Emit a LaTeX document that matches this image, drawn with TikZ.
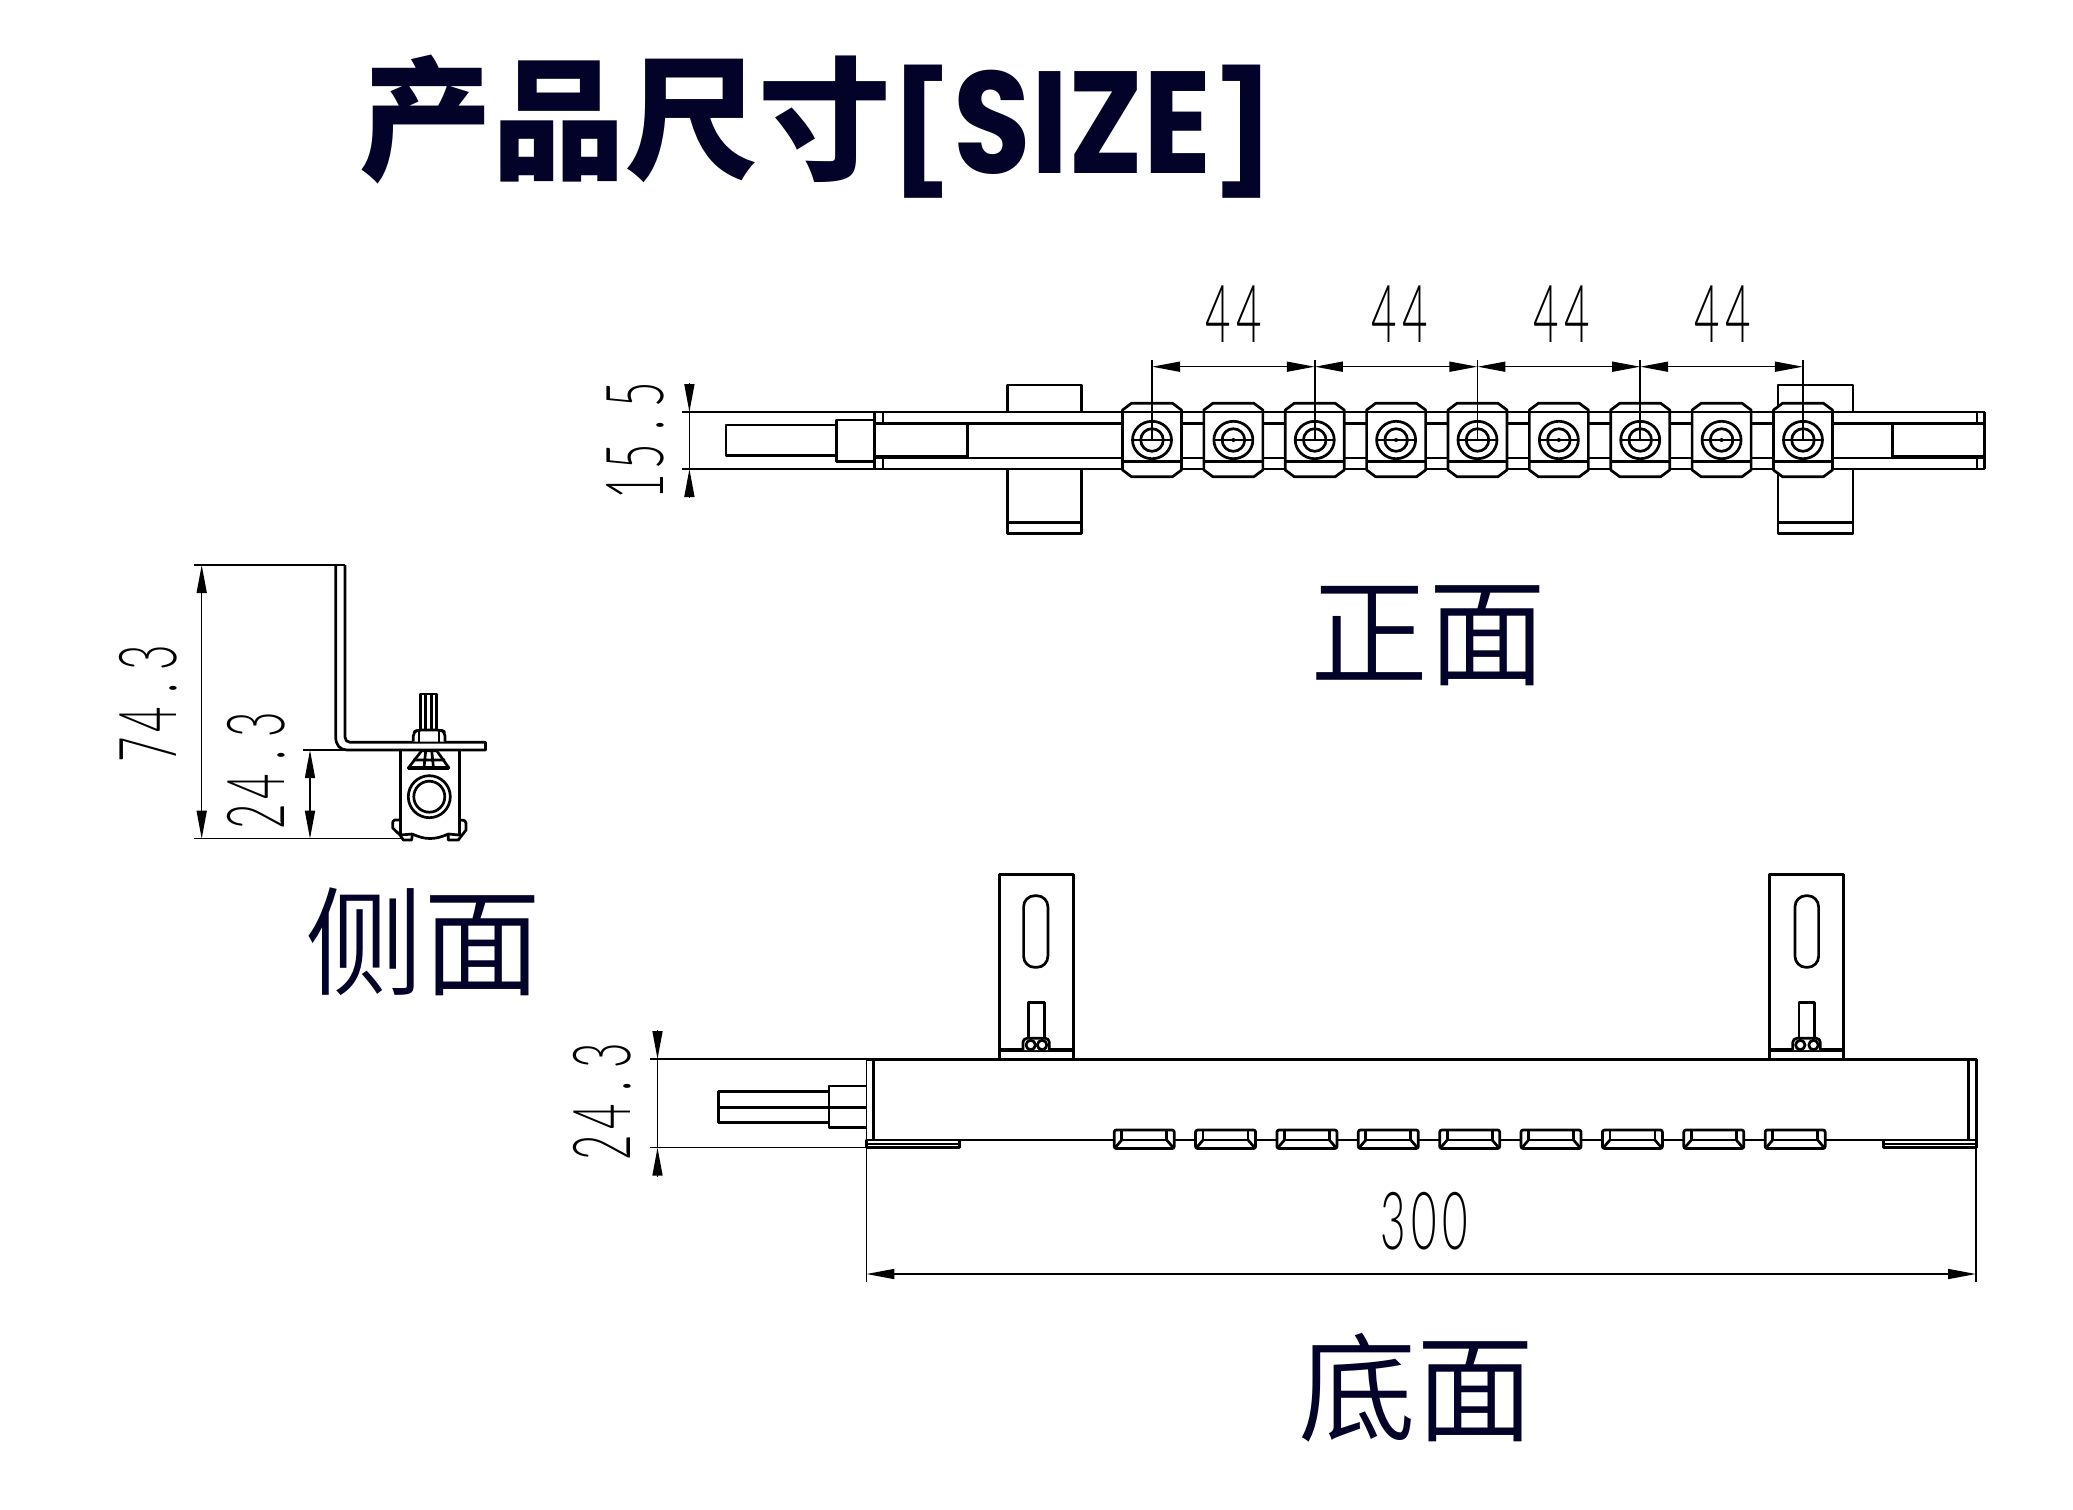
\documentclass[tikz,border=0pt]{standalone}
\usepackage{fontspec}
\usetikzlibrary{arrows.meta}
\newfontfamily\cjkreg{Noto Sans CJK SC}[UprightFont=* DemiLight]
\newfontfamily\cjkblack{Noto Sans CJK SC}[UprightFont=* Black]
\newfontfamily\latbold{Poppins}[UprightFont=* Bold]
\newfontfamily\cadfont{Lato}[UprightFont=* Light]
\definecolor{navy}{HTML}{03032A}
\newcommand{\cg}[1]{\makebox[28pt][c]{#1}}
\newcommand{\cadtext}[1]{\scalebox{0.55}[1]{\fontsize{40}{40}\cadfont #1}}
\tikzset{
  bold/.style={line width=1.35pt, line join=round, black},
  thinl/.style={line width=0.75pt, black},
  tipR/.style={-{Triangle[length=14pt,width=5pt]}},
  dimboth/.style={thinl,{Triangle[length=14pt,width=5pt]}-{Triangle[length=14pt,width=5pt]}},
  dimtext/.style={inner sep=0pt, black},
  head/.style={inner sep=0pt, navy, font=\fontsize{59}{59}\cjkreg},
}
\begin{document}
\begin{tikzpicture}[x=0.5pt,y=-0.5pt]
\useasboundingbox (0,0) rectangle (2073,1510);
\fill[white] (0,0) rectangle (2073,1510);
% title
\node[inner sep=0pt,navy,font=\fontsize{66.5}{66.5}\cjkblack] (title) at (625,120) {产品尺寸};
\node[inner sep=0pt,navy,font=\fontsize{66}{66}\latbold,anchor=base west] (titleb) at (889,173) {\scalebox{0.955}[0.9]{[}\scalebox{0.955}[1.1]{SIZE}\scalebox{0.955}[0.9]{]}};
% headings
\node[head] (front) at (1428,636) {正面};
\node[head] (side) at (423,942) {侧面};
\node[head] (bottom) at (1416,1388) {底面};

% ===== front view =====
\draw[bold] (1007.2,412) -- (1007.2,385) -- (1081.3,385) -- (1081.3,412);
\draw[bold] (1007.2,469) -- (1007.2,533.3) -- (1081.3,533.3) -- (1081.3,469) (1007.2,522.3) -- (1081.3,522.3);
\draw[bold] (1778,412) -- (1778,385) -- (1853,385) -- (1853,412);
\draw[bold] (1778,469) -- (1778,533.3) -- (1853,533.3) -- (1853,469) (1778,522.3) -- (1853,522.3);
% plate
\draw[bold] (874.6,412) -- (1984.5,412) (874.6,469) -- (1984.5,469) (874.6,423.3) -- (1984.5,423.3) (874.6,458) -- (1984.5,458);
\draw[bold] (874.6,412) -- (874.6,469) (883,412) -- (883,423.3) (883,458) -- (883,469);
\draw[bold] (1984.5,412) -- (1984.5,469) (1977,412) -- (1977,423.3) (1977,458) -- (1977,469);
\draw[bold] (967.4,423.3) -- (967.4,458) (874.6,456.8) -- (967.4,456.8);
\draw[bold] (1892.3,423.3) -- (1892.3,458) (1892.3,456.8) -- (1984.5,456.8);
% bolt
\draw[bold] (836.7,425) -- (726,425) -- (726,455.7) -- (836.7,455.7);
\draw[bold] (874.6,420) -- (836.7,420) -- (836.7,461.7) -- (874.6,461.7);
% blocks
\foreach \k in {0,...,8}{
  \pgfmathsetmacro\c{1152+81.37*\k}
  \draw[bold,fill=white] (\c-29.5,410) -- (\c-20.5,403.3) -- (\c+20.5,403.3) -- (\c+29.5,410) -- (\c+29.5,470) -- (\c+20.5,476.7) -- (\c-20.5,476.7) -- (\c-29.5,470) -- cycle;
  \draw[bold] (\c-29.5,412) -- (\c+29.5,412) (\c-29.5,461.7) -- (\c+29.5,461.7);
  \draw[bold] (\c,440) ellipse [x radius=19.5,y radius=18.7];
  \draw[bold] (\c,440) ellipse [x radius=11.3,y radius=11.3];
  \draw[bold] (\c-19.5,440) -- (\c+19.5,440);
}
\foreach \k in {1,3,5,7}{
  \pgfmathsetmacro\c{1152+81.37*\k}
  \fill (\c,440) circle (2);
}
\foreach \k in {0,2,4,6,8}{
  \pgfmathsetmacro\c{1152+81.37*\k}
  \draw[thinl] (\c,360) -- (\c,440);
}
% 44 dims
\foreach \k in {0,1,2,3}{
  \pgfmathsetmacro\a{1152+162.74*\k}
  \pgfmathsetmacro\b{1152+162.74*(\k+1)}
  \draw[dimboth] (\a,366.7) -- (\b,366.7);
}
\node[dimtext] (d44a) at (1233.6,314.5) {\cadtext{\cg{4}\cg{4}}};
\node[dimtext] (d44b) at (1400,314.5) {\cadtext{\cg{4}\cg{4}}};
\node[dimtext] (d44c) at (1562,314.5) {\cadtext{\cg{4}\cg{4}}};
\node[dimtext] (d44d) at (1723,314.5) {\cadtext{\cg{4}\cg{4}}};
% 15.5 dim
\draw[thinl] (681.8,412) -- (874.6,412) (681.8,469) -- (874.6,469) (689.4,412) -- (689.4,469);
\draw[thinl,tipR] (689.4,383.3) -- (689.4,412);
\draw[thinl,tipR] (689.4,497.7) -- (689.4,469);
\node[dimtext,rotate=90] (d155) at (634.9,441) {\cadtext{\cg{1}\cg{5}\cg{.}\cg{5}}};

% ===== side view =====
\draw[thinl] (194.3,565) -- (345,565) (194.3,838.7) -- (401.7,838.7) (303.3,750) -- (345,750);
\draw[bold] (335.7,565) -- (345,565);
\draw[bold] (335.7,565) -- (335.7,737) .. controls (335.7,745) and (340,750) .. (347,750) -- (485.5,750) -- (485.5,742.3) -- (350,742.3) .. controls (347,742.3) and (345,740) .. (345,737) -- (345,565);
\draw[dimboth] (201.7,565) -- (201.7,838.7);
\draw[dimboth] (310,750) -- (310,838.7);
\node[dimtext,rotate=90] (d743) at (148,704) {\cadtext{\cg{7}\cg{4}\cg{.}\cg{3}}};
\node[dimtext,rotate=90] (d243a) at (256,771) {\cadtext{\cg{2}\cg{4}\cg{.}\cg{3}}};
% bolt and block in side view
\draw[bold] (420.7,730) -- (420.7,694) -- (436.7,694) -- (436.7,730) (425.7,694) -- (425.7,730) (431.7,694) -- (431.7,730);
\draw[bold,rounded corners=2pt,fill=white] (413.3,741.7) -- (413.3,732) -- (418,730) -- (441,730) -- (445,732) -- (445,741.7);
\draw[bold] (419,730) -- (419,741.7) (439,730) -- (439,741.7);
\draw[bold] (400.7,750) -- (400.7,836) (459.3,750) -- (459.3,836);
\draw[bold,fill=white] (408.3,768) -- (421.7,750.7) -- (436.7,750.7) -- (449,768) -- cycle;
\draw[bold] (413,760) -- (445,760) (425.7,750.7) -- (424,768) (431.7,750.7) -- (433.5,768);
\draw[line width=2.2pt] (408.3,768) -- (449,768);
\draw[bold] (429.3,796.7) circle (21);
\draw[bold] (429.3,796.7) circle (15.5);
\draw[bold,line join=round] (400.7,820) -- (394.5,820) .. controls (392.5,820) and (392.7,822) .. (392.7,828) -- (400,835) -- (403.3,840) -- (411.7,840) -- (412.3,834) .. controls (425,840) and (435,840) .. (448.3,834) -- (448.3,840) -- (458.3,840) -- (466,830) -- (466,823) .. controls (466,821) and (465,820) .. (459.3,820);
\draw[bold] (400,835) -- (412.3,834) (448.3,834) -- (459,835);

% ===== bottom view =====
\foreach \xa/\xb/\sa/\sb/\ba/\bb/\na/\nb/\ca/\cb in {999.3/1073.6/1023.6/1047.9/1028.2/1044.3/1022.9/1049.3/1030.7/1042.1,1769.8/1843.3/1795/1818.6/1799/1814.6/1792.8/1820.3/1800.3/1813.5}{
  \draw[bold] (\xa,1059) -- (\xa,874.3) -- (\xb,874.3) -- (\xb,1059);
  \draw[bold,rounded corners=5.5pt] (\sa,895.7) rectangle (\sb,967.3);
  \draw[bold] (\ba,1038.3) -- (\ba,1002.7) -- (\bb,1002.7) -- (\bb,1038.3);
  \draw[line width=2pt] (\xa,1050) -- (\xb,1050);
  \draw[bold,rounded corners=2pt,fill=white] (\na,1050) -- (\na,1038.3) -- (\nb,1038.3) -- (\nb,1050);
  \draw[bold] (\ca,1045) circle (4.7) (\cb,1045) circle (4.7);
}
\draw[line width=1.5pt] (866.4,1059) -- (1976.5,1059);
\draw[bold] (873.6,1059) -- (873.6,1140) (1976.5,1059) -- (1976.5,1147.7) (1968.5,1059) -- (1968.5,1140);
\draw[bold] (866.4,1140) -- (1976.5,1140);
\draw[bold,fill=white] (866.4,1140) rectangle (959.3,1147.7) (1883.5,1140) rectangle (1976.5,1147.7);
\draw[bold] (866.4,1144) -- (959.3,1144) (1883.5,1144) -- (1976.5,1144);
% slots
\foreach \k in {0,...,8}{
  \pgfmathsetmacro\l{1114.2+81.37*\k}
  \draw[bold,fill=white,rounded corners=1pt] (\l,1130) rectangle (\l+60,1148.5);
  \draw[bold] (\l+7.5,1130) -- (\l+7.5,1140) -- (\l+52.5,1140) -- (\l+52.5,1130);
  \draw[bold] (\l+7.5,1140) -- (\l+1.5,1147) (\l+52.5,1140) -- (\l+58.5,1147);
}
% side bolt
\draw[bold] (829,1091.7) -- (718.2,1091.7) -- (718.2,1122.7) -- (829,1122.7);
\draw[bold] (866.4,1086) -- (829,1086) -- (829,1127.7) -- (866.4,1127.7);
\draw[bold] (718.2,1107.3) -- (866.4,1107.3);
% dims
\draw[thinl] (650.4,1059) -- (866.4,1059) (650.4,1147.7) -- (866.4,1147.7) (657.5,1059) -- (657.5,1147.7);
\draw[thinl,tipR] (657.5,1030) -- (657.5,1059);
\draw[thinl,tipR] (657.5,1176.7) -- (657.5,1147.7);
\node[dimtext,rotate=90] (d243b) at (602.5,1101.7) {\cadtext{\cg{2}\cg{4}\cg{.}\cg{3}}};
\draw[thinl] (866.4,1059) -- (866.4,1282) (1976,1147) -- (1976,1282);
\draw[dimboth] (866.4,1274) -- (1976,1274);
\node[dimtext] (d300) at (1424,1221) {\cadtext{\cg{3}\cg{0}\cg{0}}};
\end{tikzpicture}
\end{document}
